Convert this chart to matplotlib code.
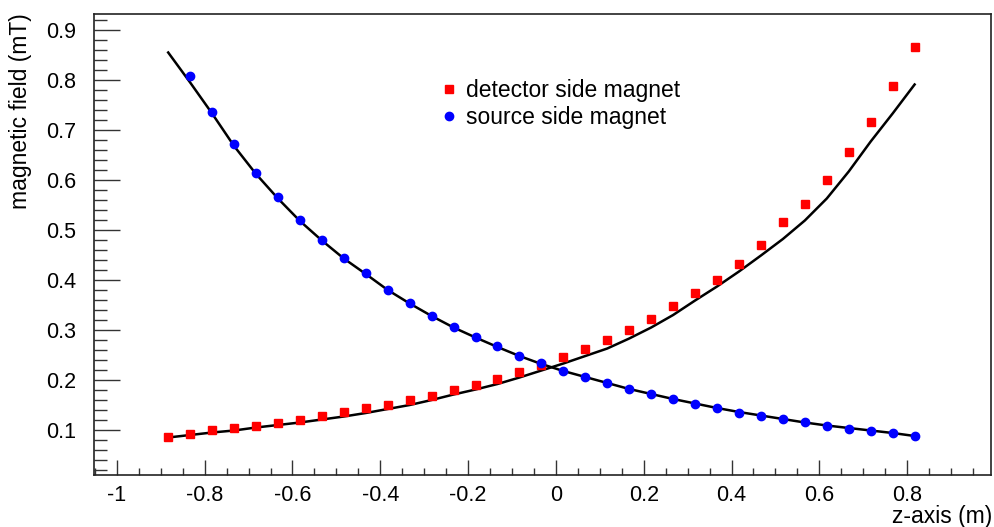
import matplotlib
matplotlib.use("Agg")
import matplotlib.pyplot as plt
import numpy as np
from matplotlib.ticker import MultipleLocator

plt.rcParams.update({"font.family": ["Liberation Sans", "DejaVu Sans"]})

# measured field along the beam axis
z_det = np.round(np.arange(-0.883, 0.82, 0.05), 3)
b_det = [0.087, 0.093, 0.101, 0.105, 0.109, 0.114, 0.121, 0.128, 0.137,
         0.145, 0.151, 0.161, 0.169, 0.181, 0.191, 0.202, 0.216, 0.230,
         0.246, 0.262, 0.281, 0.301, 0.322, 0.348, 0.375, 0.401, 0.433,
         0.470, 0.517, 0.553, 0.601, 0.657, 0.717, 0.789, 0.867]

z_src = z_det[1:]
b_src = [0.808, 0.736, 0.672, 0.615, 0.567, 0.520, 0.481, 0.445, 0.415,
         0.381, 0.354, 0.329, 0.307, 0.287, 0.268, 0.249, 0.234, 0.219,
         0.207, 0.195, 0.182, 0.173, 0.162, 0.153, 0.145, 0.135, 0.129,
         0.123, 0.116, 0.109, 0.103, 0.099, 0.094, 0.089]

# simulated field curves
z_sim = z_det
sim_det = [0.085, 0.090, 0.095, 0.099, 0.105, 0.110, 0.115, 0.121, 0.127,
           0.134, 0.142, 0.150, 0.160, 0.171, 0.181, 0.192, 0.205, 0.219,
           0.233, 0.248, 0.263, 0.283, 0.305, 0.330, 0.359, 0.387, 0.417,
           0.449, 0.482, 0.519, 0.563, 0.617, 0.677, 0.733, 0.791]
sim_src = [0.855, 0.795, 0.733, 0.668, 0.612, 0.563, 0.518, 0.479, 0.443,
           0.412, 0.380, 0.353, 0.328, 0.305, 0.285, 0.266, 0.248, 0.232,
           0.218, 0.206, 0.194, 0.182, 0.172, 0.162, 0.153, 0.144, 0.136,
           0.129, 0.122, 0.115, 0.109, 0.104, 0.099, 0.094, 0.088]

fig = plt.figure(figsize=(9.94, 5.27), dpi=100)
ax = fig.add_axes([94 / 994, 52 / 527, 897 / 994, 461 / 527])

ax.plot(z_sim, sim_det, color="black", lw=1.8, zorder=2)
ax.plot(z_sim, sim_src, color="black", lw=1.8, zorder=2)
ax.plot(z_det, b_det, ls="", marker="s", ms=5.5, color="red",
        mec="red", label="detector side magnet", zorder=3)
ax.plot(z_src, b_src, ls="", marker="o", ms=6, color="blue",
        mec="blue", label="source side magnet", zorder=3)

ax.set_xlim(-1.052, 0.991)
ax.set_ylim(0.01, 0.932)
ax.xaxis.set_minor_locator(MultipleLocator(0.05))
ax.yaxis.set_minor_locator(MultipleLocator(0.02))
ax.set_xticks(np.round(np.arange(-1.0, 0.81, 0.2), 1))
ax.set_xticklabels(["-1", "-0.8", "-0.6", "-0.4", "-0.2", "0",
                    "0.2", "0.4", "0.6", "0.8"])
ax.set_yticks(np.round(np.arange(0.1, 0.91, 0.1), 1))

ax.tick_params(which="both", direction="in", top=False, right=False,
               color="#333333", width=1.0, labelsize=15.5)
ax.tick_params(axis="y", which="major", length=19, pad=13)
ax.tick_params(axis="y", which="minor", length=9.5)
ax.tick_params(axis="x", which="major", length=10.5, pad=7)
ax.tick_params(axis="x", which="minor", length=5)
for s in ax.spines.values():
    s.set_linewidth(1.2)
    s.set_color("#222222")

fig.text(0.998, 1 - 505 / 527, "z-axis (m)", ha="right", va="top",
         fontsize=16.5)
fig.text(0.021, 0.975, "magnetic field (mT)", rotation=90, ha="center",
         va="top", fontsize=16.5)

ax.legend(loc="upper left", bbox_to_anchor=(0.385, 0.858), frameon=False,
          fontsize=16.5, handlelength=0.8, handletextpad=0.35,
          labelspacing=0.15, borderpad=0, borderaxespad=0)

fig.savefig("out.png", dpi=100)
